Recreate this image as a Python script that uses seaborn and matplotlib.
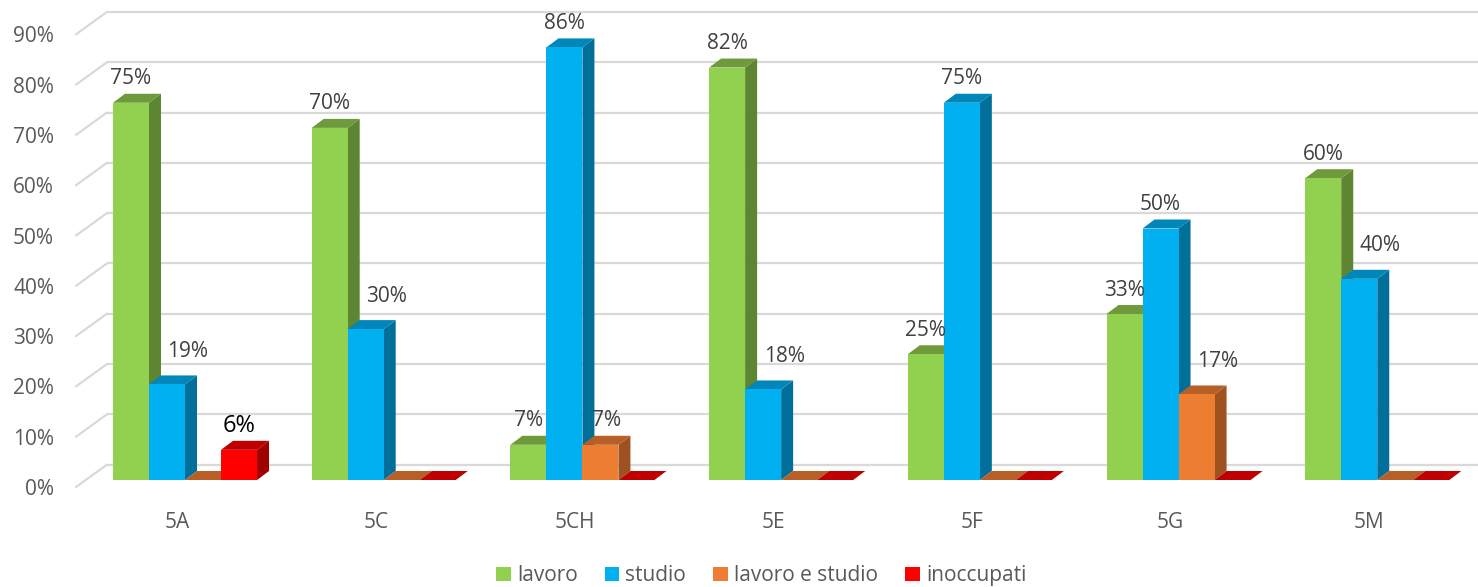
import numpy as np
import pandas as pd
import matplotlib
matplotlib.use("Agg")
import matplotlib.pyplot as plt
import seaborn as sns
from matplotlib.patches import Polygon, Patch
from matplotlib.transforms import ScaledTranslation

categories = ["5A", "5C", "5CH", "5E", "5F", "5G", "5M"]
series = ["lavoro", "studio", "lavoro e studio", "inoccupati"]
lavoro = [75, 70, 7, 82, 25, 33, 60]
studio = [19, 30, 86, 18, 75, 50, 40]
lavoro_studio = [0, 0, 7, 0, 0, 17, 0]
inoccupati = [6, 0, 0, 0, 0, 0, 0]
y_ticks = [0, 10, 20, 30, 40, 50, 60, 70, 80, 90]
y_tick_labels = [f"{v}%" for v in y_ticks]

front_colors = ["#92D050", "#00B0F0", "#ED7D31", "#FF0000"]
side_colors = ["#5E8532", "#00709A", "#9E5221", "#A00000"]
top_colors = ["#6E9A3B", "#0086B8", "#B85F27", "#C00000"]

df = pd.DataFrame({
    "category": categories * 4,
    "series": sum([[s] * len(categories) for s in series], []),
    "value": lavoro + studio + lavoro_studio + inoccupati,
})

sns.set_theme(style="white")
plt.rcParams["font.family"] = ["Open Sans", "DejaVu Sans"]

W, H, DPI = 1478, 587, 100
fig = plt.figure(figsize=(W / DPI, H / DPI), dpi=DPI)
ax_left, ax_bottom_px, ax_top_px = 76, 480, 27.3
ax = fig.add_axes([ax_left / W, (H - ax_bottom_px) / H, (W - ax_left) / W,
                   (ax_bottom_px - ax_top_px) / H])

sns.barplot(data=df, x="category", y="value", hue="series", order=categories,
            hue_order=series, palette=front_colors, saturation=1, width=0.725,
            linewidth=0, ax=ax, legend=False)

xlim = (-0.5486, 6.507)
ax.set_xlim(*xlim)
ax.set_ylim(0, 90)
for s in ax.spines.values():
    s.set_visible(False)
ax.grid(False)
ax.set_xlabel("")
ax.set_ylabel("")

# pixel-to-data scales
ax_w_px = (W - ax_left)
ax_h_px = (ax_bottom_px - ax_top_px)
ppx = ax_w_px / (xlim[1] - xlim[0])
ppy = ax_h_px / 90.0

# walls: back and left side gridlines
gray = "#D9D9D9"
side_dx, back_dy, front_dy = 31, 15.4, 7
for v in y_ticks:
    yb = v + back_dy / ppy
    ax.plot([xlim[0] + side_dx / ppx, xlim[1]], [yb, yb], color=gray, lw=1.6,
            zorder=0, clip_on=False, solid_capstyle="butt")
    ax.plot([xlim[0], xlim[0] + side_dx / ppx], [v - front_dy / ppy, yb],
            color=gray, lw=1.6, zorder=0, clip_on=False)

# 3D faces
dxd = 12 / ppx
dyd = 9 / ppy
heights_by_series = []
for k, cont in enumerate(ax.containers):
    hs = []
    for rect in cont:
        x0, w, h = rect.get_x(), rect.get_width(), rect.get_height()
        hs.append((x0, w, h))
        rect.set_zorder(3 + 2 * k)
        rect.set_clip_on(False)
        if h > 0:
            ax.add_patch(Polygon([(x0 + w, 0), (x0 + w + dxd, dyd),
                                  (x0 + w + dxd, h + dyd), (x0 + w, h)],
                                 closed=True, facecolor=side_colors[k],
                                 edgecolor="none", zorder=2 + 2 * k, clip_on=False))
        ax.add_patch(Polygon([(x0, h), (x0 + w, h), (x0 + w + dxd, h + dyd),
                              (x0 + dxd, h + dyd)], closed=True,
                             facecolor=top_colors[k], edgecolor="none",
                             zorder=2 + 2 * k, clip_on=False))
    heights_by_series.append(hs)

# data labels
for k, hs in enumerate(heights_by_series):
    for i, (x0, w, h) in enumerate(hs):
        if h <= 0:
            continue
        left_h = heights_by_series[k - 1][i][2] if k > 0 else 0
        if left_h > h:
            off = (21, 33) if h > 10 else (6, 24)
        else:
            off = (0, 24)
        color = "black" if k == 3 else "#404040"
        size = 17 if k == 3 else 15
        ax.annotate(f"{int(h)}%", xy=(x0 + w / 2, h), xytext=off,
                    textcoords="offset pixels", ha="center", va="center",
                    color=color, fontsize=size, zorder=20, annotation_clip=False)

# ticks
ax.set_yticks(y_ticks, y_tick_labels)
ax.set_xticks(range(len(categories)), categories)
ax.tick_params(axis="y", length=0, pad=15.8, labelsize=15, labelcolor="#595959")
ax.tick_params(axis="x", length=0, pad=23, labelsize=15, labelcolor="#595959")
for lab in ax.get_yticklabels():
    lab.set_transform(lab.get_transform() + ScaledTranslation(0, -7 / DPI, fig.dpi_scale_trans))
for lab in ax.get_xticklabels():
    lab.set_transform(lab.get_transform() + ScaledTranslation(-8 / DPI, 0, fig.dpi_scale_trans))

handles = [Patch(facecolor=c, edgecolor="none") for c in front_colors]
leg = fig.legend(handles, series, loc="center", bbox_to_anchor=(0.515, 0.019),
                 ncol=4, frameon=False, handlelength=0.7, handleheight=0.7,
                 handletextpad=0.3, columnspacing=1.3, fontsize=15)
for t in leg.get_texts():
    t.set_color("#595959")

fig.savefig("out.png", dpi=DPI)
